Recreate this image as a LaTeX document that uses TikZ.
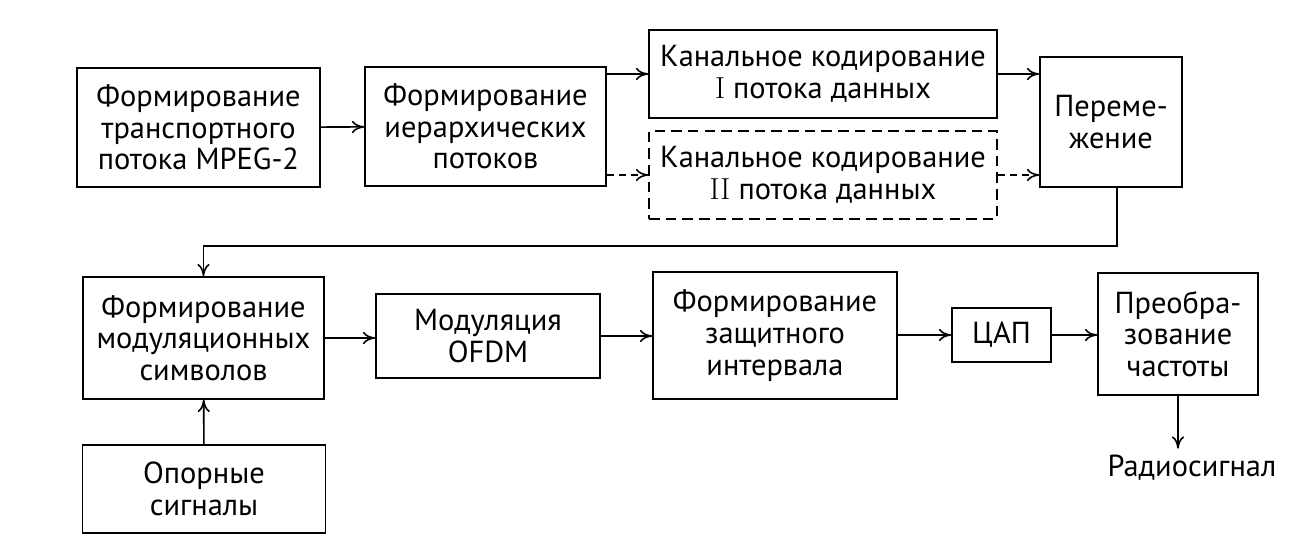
\documentclass[tikz,border=0pt]{standalone}
\usepackage{fontspec}
\setsansfont{PT Sans}
\usepackage{tikz}
\usetikzlibrary{arrows.meta}

\begin{document}
\begin{tikzpicture}[>={To[length=7pt,width=7pt]}, line width=0.9pt,
    blok/.style={draw, align=center, inner sep=2pt,
        font=\sffamily\fontsize{17.3}{18}\selectfont},
    blokdash/.style={blok, dash pattern=on 6pt off 3.5pt}]
    \useasboundingbox (0,0) rectangle (26.12,10.98);
    \node[blok, minimum width=4.86cm, minimum height=2.38cm] (mpeg) at (3.97,8.43) {Формирование\\транспортного\\потока MPEG-2};
    \node[blok, minimum width=4.82cm, minimum height=2.38cm] (ierarh) at (9.71,8.45) {Формирование\\иерархических\\потоков};
    \node[blok, minimum width=6.96cm, minimum height=1.76cm] (kod1) at (16.46,9.50) {Канальное кодирование\\\textrm{I} потока данных};
    \node[blokdash, minimum width=6.96cm, minimum height=1.76cm] (kod2) at (16.46,7.48) {Канальное кодирование\\\textrm{II} потока данных};
    \node[blok, minimum width=2.84cm, minimum height=2.60cm] (perem) at (22.22,8.54) {Переме-\\жение};
    \node[blok, minimum width=4.82cm, minimum height=2.44cm] (simv) at (4.07,4.22) {Формирование\\модуляционных\\символов};
    \node[blok, minimum width=4.86cm, minimum height=1.76cm] (opor) at (4.08,1.20) {Опорные\\сигналы};
    \node[blok, minimum width=4.48cm, minimum height=1.68cm] (ofdm) at (9.76,4.26) {Модуляция\\OFDM};
    \node[blok, minimum width=4.88cm, minimum height=2.54cm] (zasch) at (15.50,4.27) {Формирование\\защитного\\интервала};
    \node[blok, minimum width=1.98cm, minimum height=1.08cm] (cap) at (20.03,4.28) {ЦАП};
    \node[blok, minimum width=3.20cm, minimum height=2.44cm] (preobr) at (23.56,4.30) {Преобра-\\зование\\частоты};
    \node[font=\sffamily\fontsize{17.3}{18}\selectfont] (radio) at (23.84,1.62) {Радиосигнал};
    % upper row
    \draw[->] (mpeg) -- (ierarh);
    \draw[->] (ierarh.east |- kod1.west) -- (kod1.west);
    \draw[->, dash pattern=on 4pt off 3pt] (ierarh.east |- kod2.west) -- (kod2.west);
    \draw[->] (kod1.east) -- (kod1.east -| perem.west);
    \draw[->, dash pattern=on 4pt off 3pt] (kod2.east) -- (kod2.east -| perem.west);
    % back to the lower row
    \coordinate (povorot) at (0,6.06);
    \draw[->] ([xshift=0.12cm]perem.south) -- ([xshift=0.12cm]perem.south |- povorot) -| (simv.north);
    % lower row
    \draw[->] (opor) -- (simv);
    \draw[->] (simv.east) -- (simv.east -| ofdm.west);
    \draw[->] (ofdm.east) -- (ofdm.east -| zasch.west);
    \draw[->] (zasch.east |- cap.west) -- (cap.west);
    \draw[->] (cap.east) -- (cap.east -| preobr.west);
    \draw[->] (preobr.south) -- (preobr.south |- radio.north);
\end{tikzpicture}
\end{document}
